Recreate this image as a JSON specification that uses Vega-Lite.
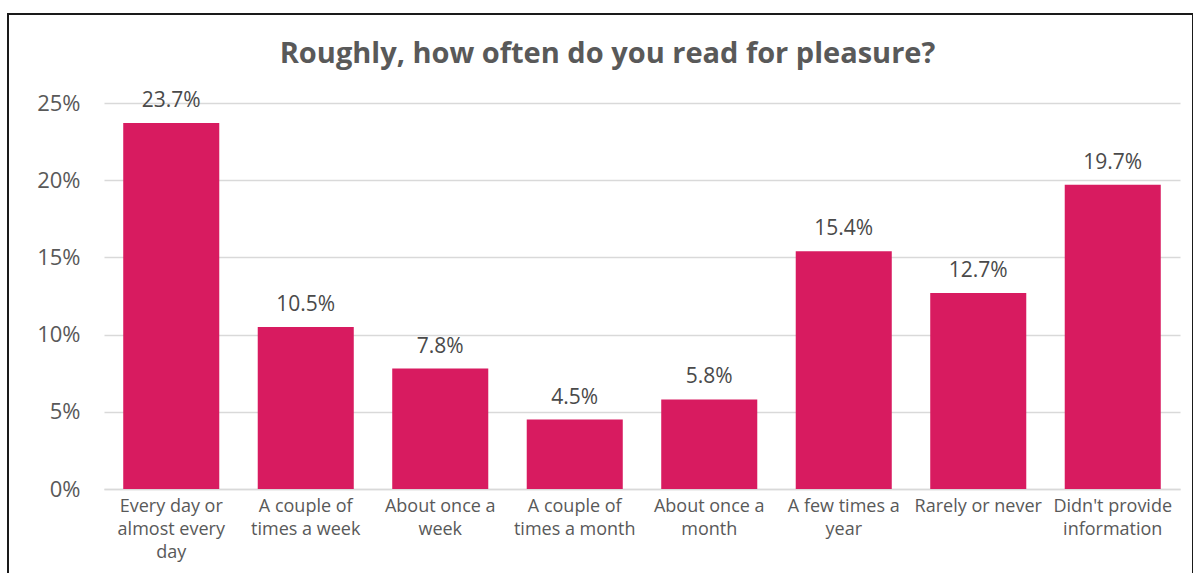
{
  "$schema": "https://vega.github.io/schema/vega-lite/v6.json",
  "width": 1185,
  "height": 600,
  "autosize": {"type": "none"},
  "padding": {"left": 8, "top": 14, "right": 0, "bottom": 0},
  "background": "white",
  "config": {
    "view": {"stroke": "#1a1a1a", "strokeWidth": 2},
    "font": "Open Sans"
  },
  "title": {
    "text": "Roughly, how often do you read for pleasure?",
    "fontSize": 29,
    "fontWeight": "bold",
    "color": "#595959",
    "anchor": "middle",
    "offset": -55,
    "dx": 7
  },
  "data": {
    "values": [
      {"frequency": "Every day or almost every day", "share": 0.237},
      {"frequency": "A couple of times a week", "share": 0.105},
      {"frequency": "About once a week", "share": 0.078},
      {"frequency": "A couple of times a month", "share": 0.045},
      {"frequency": "About once a month", "share": 0.058},
      {"frequency": "A few times a year", "share": 0.154},
      {"frequency": "Rarely or never", "share": 0.127},
      {"frequency": "Didn't provide information", "share": 0.197}
    ]
  },
  "encoding": {
    "x": {
      "field": "frequency",
      "type": "nominal",
      "sort": null,
      "scale": {"range": [96, 1172], "paddingInner": 0.286, "paddingOuter": 0.143},
      "axis": {
        "orient": "bottom",
        "offset": -125,
        "title": null,
        "labelAngle": 0,
        "ticks": false,
        "tickSize": 0,
        "domainColor": "#D9D9D9",
        "domainWidth": 1.5,
        "labelFontSize": 18,
        "labelColor": "#595959",
        "labelPadding": 8,
        "labelLineHeight": 23,
        "labelBaseline": "top",
        "labelLimit": 200,
        "labelExpr": "datum.value == 'Every day or almost every day' ? ['Every day or','almost every','day'] : datum.value == 'A couple of times a week' ? ['A couple of','times a week'] : datum.value == 'About once a week' ? ['About once a','week'] : datum.value == 'A couple of times a month' ? ['A couple of','times a month'] : datum.value == 'About once a month' ? ['About once a','month'] : datum.value == 'A few times a year' ? ['A few times a','year'] : datum.value == \"Didn't provide information\" ? [\"Didn't provide\",'information'] : datum.label"
      }
    },
    "y": {
      "field": "share",
      "type": "quantitative",
      "scale": {"domain": [0, 0.25], "range": [475, 89]},
      "axis": {
        "orient": "left",
        "offset": -96,
        "title": null,
        "values": [0, 0.05, 0.1, 0.15, 0.2, 0.25],
        "format": ".0%",
        "domain": false,
        "ticks": false,
        "tickSize": 0,
        "grid": true,
        "gridColor": "#D9D9D9",
        "gridWidth": 1.5,
        "labelFontSize": 22,
        "labelColor": "#595959",
        "labelPadding": 24
      }
    }
  },
  "layer": [
    {"mark": {"type": "bar", "color": "#D81B60"}},
    {
      "mark": {"type": "text", "baseline": "alphabetic", "dy": -16, "fontSize": 21, "color": "#4a4a4a"},
      "encoding": {"text": {"field": "share", "type": "quantitative", "format": ".1%"}}
    }
  ]
}
